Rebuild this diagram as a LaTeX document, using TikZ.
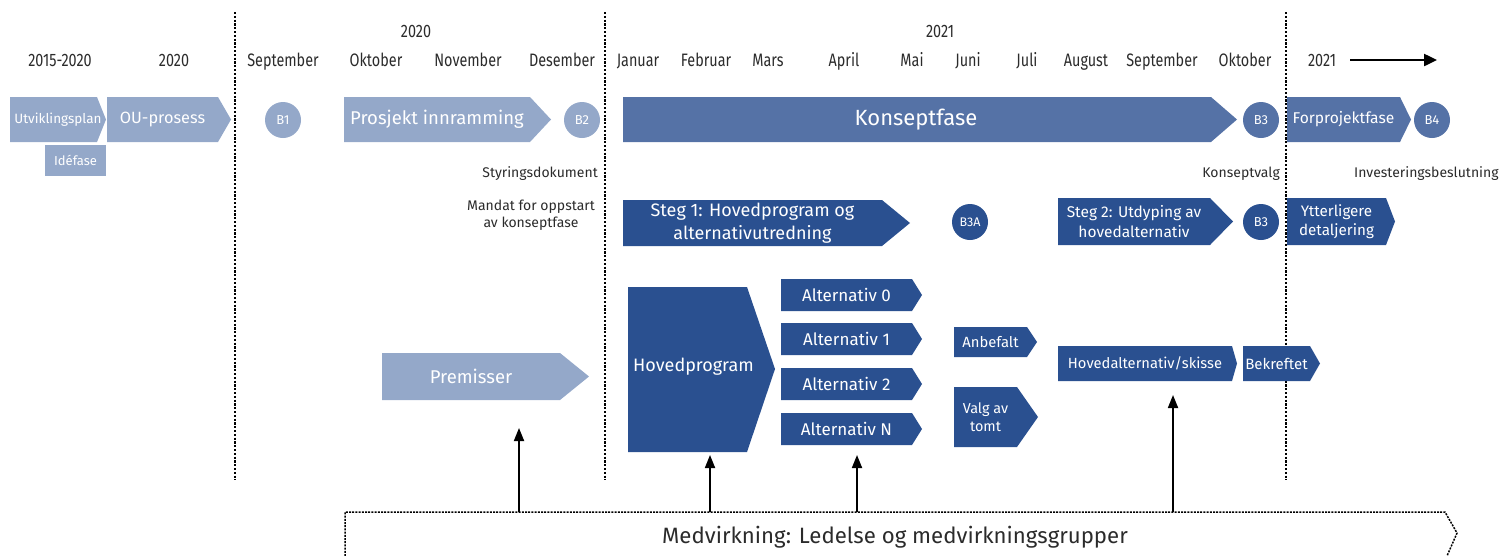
\documentclass[tikz,border=0pt]{standalone}
\usepackage{fontspec}
\setmainfont{Fira Sans}
\newfontfamily\condfont[FakeStretch=0.8]{Fira Sans}
\usetikzlibrary{arrows.meta}
\definecolor{paleblue}{HTML}{94A8C9}
\definecolor{midblue}{HTML}{5572A6}
\definecolor{deepblue}{HTML}{2A5090}
\definecolor{inkgray}{HTML}{2B2B2B}

% chevron: name, left x, top y, body right x, tip x, bottom y, colour, font size, text
\newcommand\chevron[9]{%
  \fill[#7] (#2,#3) -- (#4,#3) -- (#5,{(#3+#6)/2}) -- (#4,#6) -- (#2,#6) -- cycle;
  \node[boxtxt, font=\fontsize{#8}{\the\dimexpr#8pt*5/4\relax}\selectfont] (#1) at ({(#2+#4)/2},{(#3+#6)/2}) {#9};%
}

\begin{document}
\begin{tikzpicture}[x=1pt,y=-1pt,
  hdr/.style={font=\condfont\fontsize{18}{18}\selectfont, text=inkgray, inner sep=0, anchor=base},
  lbl/.style={font=\fontsize{14}{17}\selectfont, text=inkgray, inner sep=0},
  boxtxt/.style={text=white, inner sep=0, align=center},
  milestone/.style={circle, minimum size=36pt, inner sep=0, text=white, font=\fontsize{13}{13}\selectfont},
  divider/.style={line width=1.8pt, dash pattern=on 2.2pt off 1.6pt, black},
  uparrow/.style={-{Triangle[length=13pt,width=10pt]}, line width=1.8pt}
]
\useasboundingbox (0,0) rectangle (1509,555);

% period dividers
\draw[divider] (235,12) -- (235,480);
\draw[divider] (605,12) -- (605,480);
\draw[divider] (1286,12) -- (1286,480);

% time axis
\node[hdr] (y2020) at (416,37) {2020};
\node[hdr] (y2021) at (940,37) {2021};
\node[hdr] (m1) at (60,66) {2015-2020};
\node[hdr] (m2) at (174,66) {2020};
\node[hdr] (m3) at (283,66) {September};
\node[hdr] (m4) at (376,66) {Oktober};
\node[hdr] (m5) at (468,66) {November};
\node[hdr] (m6) at (562,66) {Desember};
\node[hdr] (m7) at (638,66) {Januar};
\node[hdr] (m8) at (706,66) {Februar};
\node[hdr] (m9) at (768,66) {Mars};
\node[hdr] (m10) at (844,66) {April};
\node[hdr] (m11) at (912,66) {Mai};
\node[hdr] (m12) at (968,66) {Juni};
\node[hdr] (m13) at (1027,66) {Juli};
\node[hdr] (m14) at (1086,66) {August};
\node[hdr] (m15) at (1162,66) {September};
\node[hdr] (m16) at (1245,66) {Oktober};
\node[hdr] (m17) at (1322,66) {2021};
\coordinate (onward) at (1437,60);
\draw[-{Triangle[length=13pt,width=12pt]}, line width=2.4pt] (1350,60) -- (onward);

% phases
\fill[paleblue] (10,97) -- (97,97) -- (106,119.5) -- (97,142) -- (10,142) -- cycle;
\node[boxtxt, font=\fontsize{13.5}{13.5}\selectfont] (utv) at (58,120) {Utviklingsplan};
\chevron{ou}{107}{97}{218}{231}{142}{paleblue}{16.3}{OU-prosess}
\fill[paleblue] (45,145) rectangle (106,176);
\node[boxtxt, font=\fontsize{13}{13}\selectfont] (ide) at (75.5,160.5) {Idéfase};
\node[milestone, fill=paleblue] (b1) at (283,120) {B1};
\chevron{innr}{344}{97}{530}{551}{142}{paleblue}{18.5}{Prosjekt innramming}
\node[milestone, fill=paleblue] (b2) at (582,120) {B2};
\fill[midblue] (623,97) -- (1211,97) -- (1237,119.5) -- (1211,142) -- (623,142) -- cycle;
\node[boxtxt, font=\fontsize{22}{22}\selectfont] (konsept) at (916,120) {Konseptfase};
\node[milestone, fill=midblue] (b3) at (1261,120) {B3};
\chevron{forpr}{1287}{97}{1400}{1411}{142}{midblue}{15.6}{Forprojektfase}
\node[milestone, fill=midblue] (b4) at (1432,120) {B4};

% decision texts
\node[lbl, anchor=base east] (styr) at (598,177) {Styringsdokument};
\node[lbl, align=center] (mandat) at (531,215) {Mandat for oppstart\\av konseptfase};
\node[lbl, anchor=base east] (kvalg) at (1280,177) {Konseptvalg};
\node[lbl, anchor=base west] (invest) at (1354,177) {Investeringsbeslutning};

% steps
\chevron{steg1}{623}{200}{882}{910}{246}{deepblue}{18}{Steg 1: Hovedprogram og\\alternativutredning}
\node[milestone, fill=deepblue, font=\fontsize{12.5}{12.5}\selectfont] (b3a) at (970,222) {B3A};
\chevron{steg2}{1058}{198}{1210}{1233}{245}{deepblue}{15.5}{Steg 2: Utdyping av\\hovedalternativ}
\node[milestone, fill=deepblue] (b3b) at (1261,222) {B3};
\chevron{ytterl}{1287}{198}{1386}{1395}{245}{deepblue}{15.2}{Ytterligere\\detaljering}

% work products
\chevron{prem}{382}{353}{560}{589}{400}{paleblue}{18.5}{Premisser}
\fill[deepblue] (628,287) -- (747,287) -- (775,369) -- (747,452) -- (628,452) -- cycle;
\node[boxtxt, anchor=west, font=\fontsize{18}{18}\selectfont] (hovedprog) at (633,367) {Hovedprogram};
\chevron{alt0}{781}{279}{912}{922}{311}{deepblue}{17}{Alternativ 0}
\chevron{alt1}{781}{323}{912}{922}{355}{deepblue}{17}{Alternativ 1}
\chevron{alt2}{781}{368}{912}{922}{400}{deepblue}{17}{Alternativ 2}
\chevron{altn}{781}{413}{912}{922}{445}{deepblue}{17}{Alternativ N}
\chevron{anbef}{954}{327}{1027}{1037}{357}{deepblue}{14.8}{Anbefalt}
\chevron{tomt}{954}{387}{1017}{1038}{447}{deepblue}{14.4}{Valg av\\tomt}
\chevron{hovalt}{1058}{346}{1232}{1237}{381}{deepblue}{14.7}{Hovedalternativ/skisse}
\chevron{bekr}{1243}{346}{1310}{1320}{381}{deepblue}{15}{Bekreftet}

% participation band
\draw[line width=1.5pt, dash pattern=on 2pt off 1.2pt] (345,556) -- (345,512) -- (1445,512) -- (1457,533) -- (1447,556);
\node[font=\fontsize{22.2}{22.2}\selectfont, text=inkgray, inner sep=0, anchor=base] (medv) at (895,543) {Medvirkning: Ledelse og medvirkningsgrupper};

% inputs from the participation band
\coordinate (p1) at (519,512); \coordinate (t1) at (519,428);
\coordinate (p2) at (710,512); \coordinate (t2) at (710,455);
\coordinate (p3) at (857,512); \coordinate (t3) at (857,455);
\coordinate (p4) at (1173,512); \coordinate (t4) at (1173,395);
\draw[uparrow] (p1) -- (t1);
\draw[uparrow] (p2) -- (t2);
\draw[uparrow] (p3) -- (t3);
\draw[uparrow] (p4) -- (t4);
\end{tikzpicture}
\end{document}
